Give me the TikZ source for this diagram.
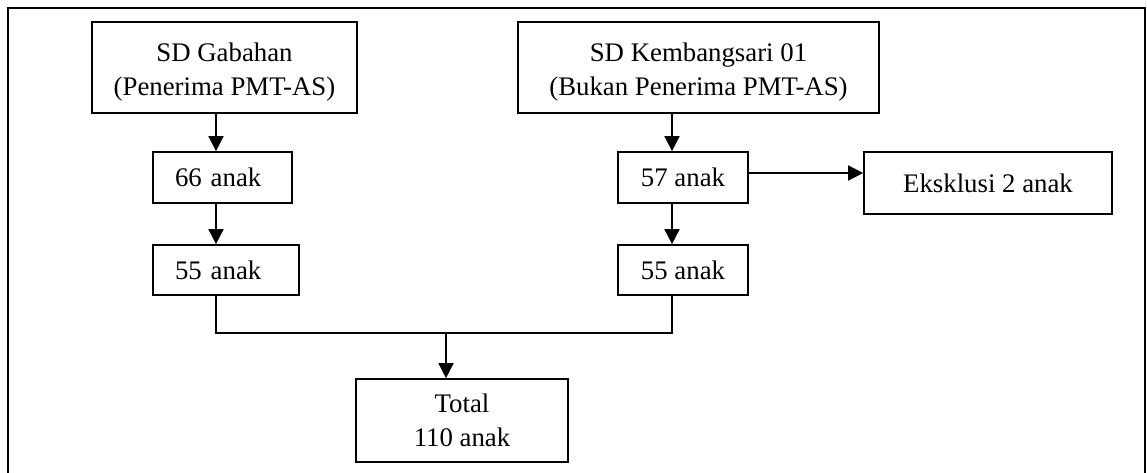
\documentclass[tikz,border=0pt]{standalone}
\usepackage{fontspec}
\setmainfont{Liberation Serif}
\usetikzlibrary{arrows.meta}
\begin{document}
\begin{tikzpicture}[x=1pt,y=-1pt,line width=1.7pt,
  box/.style={draw,inner sep=0pt,align=center,font=\fontsize{26.8}{34}\selectfont},
  lbox/.style={box,inner xsep=22pt,align=left,text width=#1},
  arr/.style={-{Triangle[length=15pt,width=15pt]}}]
\useasboundingbox (0,0) rectangle (1147,473);
\draw[line width=2pt] (8,473)--(8,8)--(1145,8)--(1145,473);
\node[box,minimum width=265pt,minimum height=91pt] (ga) at (224.5,67.5) {\rule{0pt}{27pt}SD Gabahan\\(Penerima PMT-AS)};
\node[box,minimum width=361pt,minimum height=91pt] (kb) at (698.5,67.5) {\rule{0pt}{27pt}SD Kembangsari 01\\(Bukan Penerima PMT-AS)};
\node[lbox=95pt,minimum height=51pt] (n66) at (222.5,177.5) {66 anak};
\node[lbox=102pt,minimum height=50pt] (l55) at (226,270) {55 anak};
\node[box,minimum width=130pt,minimum height=51pt] (n57) at (683,177.5) {57 anak};
\node[box,minimum width=130pt,minimum height=50pt] (r55) at (683,270) {55 anak};
\node[box,minimum width=248pt,minimum height=62pt] (eks) at (988,183) {Eksklusi 2 anak};
\node[box,minimum width=212pt,minimum height=83pt] (tot) at (462,420.5) {Total\\110 anak};
\coordinate (cl) at (216,0);
\coordinate (cr) at (672,0);
\coordinate (ce) at (0,173);
\coordinate (cm) at (446,333);
\draw[arr] (ga.south-|cl)--(n66.north-|cl);
\draw[arr] (n66.south-|cl)--(l55.north-|cl);
\draw[arr] (kb.south-|cr)--(n57.north-|cr);
\draw[arr] (n57.south-|cr)--(r55.north-|cr);
\draw[arr] (n57.east|-ce)--(eks.west|-ce);
\draw (l55.south-|cl)--(cl|-cm)--(cr|-cm)--(r55.south-|cr);
\draw[arr] (cm)--(tot.north-|cm);
\end{tikzpicture}
\end{document}
